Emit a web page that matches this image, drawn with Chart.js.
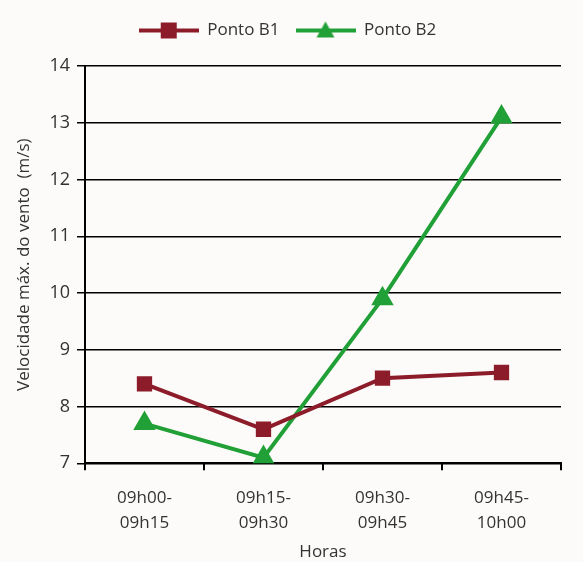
<!DOCTYPE html>
<html>
<head>
<meta charset="utf-8">
<script src="https://cdn.jsdelivr.net/npm/chart.js@4"></script>
<style>
  html, body { margin: 0; padding: 0; background: #fdfbf9; }
  #wrap { width: 583px; height: 562px; }
</style>
</head>
<body>
<div id="wrap"><canvas id="windChart"></canvas></div>
<script>
const horas = [['09h00-', '09h15'], ['09h15-', '09h30'], ['09h30-', '09h45'], ['09h45-', '10h00']];
const pontoB1 = [8.4, 7.6, 8.5, 8.6];
const pontoB2 = [7.7, 7.1, 9.9, 13.1];
const yMin = 7;
const yMax = 14;

const red = '#8c1c2a';
const green = '#22a038';
const fontFamily = "'Open Sans', 'Liberation Sans', sans-serif";

// legend icon: short line with the marker in the middle
function legendIcon(color, shape) {
    const c = document.createElement('canvas');
    c.width = 60;
    c.height = 20;
    const ctx = c.getContext('2d');
    ctx.strokeStyle = color;
    ctx.fillStyle = color;
    ctx.lineWidth = 4;
    ctx.beginPath();
    ctx.moveTo(0, 10);
    ctx.lineTo(60, 10);
    ctx.stroke();
    ctx.beginPath();
    if (shape === 'rect') {
        ctx.rect(22, 2, 16, 16);
    } else {
        ctx.moveTo(30, 1);
        ctx.lineTo(39, 17);
        ctx.lineTo(21, 17);
        ctx.closePath();
    }
    ctx.fill();
    return c;
}

// extra room under the legend
const legendGap = {
    id: 'legendGap',
    beforeInit(chart) {
        const fit = chart.legend.fit;
        chart.legend.fit = function () {
            fit.bind(chart.legend)();
            this.height += 17;
        };
    }
};

const context = document.getElementById('windChart').getContext('2d');
new Chart(context, {
    type: 'line',
    data: {
        labels: horas,
        datasets: [{
            label: 'Ponto B1',
            data: pontoB1,
            borderColor: red,
            backgroundColor: red,
            borderWidth: 4,
            pointStyle: 'rect',
            pointRadius: 8,
            pointHoverRadius: 8,
            lineTension: 0
        }, {
            label: 'Ponto B2',
            data: pontoB2,
            borderColor: green,
            backgroundColor: green,
            borderWidth: 4,
            pointStyle: 'triangle',
            pointRadius: 9,
            pointHoverRadius: 9,
            lineTension: 0
        }]
    },
    options: {
        responsive: true,
        maintainAspectRatio: false,
        animation: false,
        layout: { padding: { top: 6, right: 22, bottom: 0, left: 14 } },
        plugins: {
            legend: {
                position: 'top',
                labels: {
                    usePointStyle: true,
                    pointStyleWidth: 60,
                    color: '#333',
                    font: { family: fontFamily, size: 17 },
                    padding: 16,
                    generateLabels: chart => chart.data.datasets.map((ds, i) => ({
                        text: ds.label,
                        fontColor: '#333',
                        pointStyle: legendIcon(ds.borderColor, ds.pointStyle),
                        datasetIndex: i,
                        hidden: false,
                        lineWidth: 0
                    }))
                }
            },
            tooltip: { enabled: false }
        },
        scales: {
            x: {
                offset: true,
                grid: {
                    offset: true,
                    drawOnChartArea: false,
                    drawTicks: true,
                    tickLength: 7,
                    color: '#000',
                    lineWidth: 2
                },
                border: { color: '#000', width: 2 },
                ticks: {
                    color: '#333',
                    font: { family: fontFamily, size: 17, lineHeight: 1.45 },
                    padding: 16,
                    maxRotation: 0
                },
                title: {
                    display: true,
                    text: 'Horas',
                    color: '#333',
                    font: { family: fontFamily, size: 17 },
                    padding: { top: -10, bottom: 0 }
                }
            },
            y: {
                min: yMin,
                max: yMax,
                grid: {
                    color: '#000',
                    lineWidth: 1.5,
                    drawTicks: true,
                    tickLength: 8
                },
                border: { color: '#000', width: 2 },
                ticks: {
                    stepSize: 1,
                    color: '#333',
                    font: { family: fontFamily, size: 18 },
                    padding: 7
                },
                title: {
                    display: true,
                    text: 'Velocidade máx. do vento  (m/s)',
                    color: '#333',
                    font: { family: fontFamily, size: 17 },
                    padding: { top: 0, bottom: 8 }
                }
            }
        }
    },
    plugins: [legendGap]
});
</script>
</body>
</html>
